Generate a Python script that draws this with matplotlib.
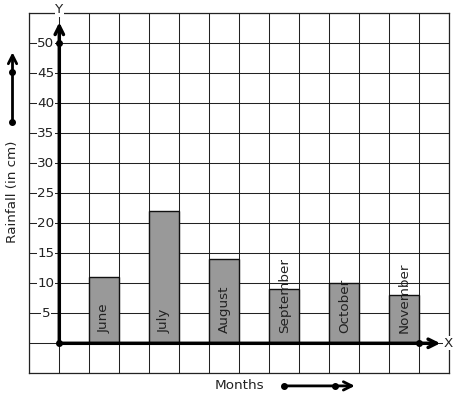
import matplotlib
matplotlib.use("Agg")
import matplotlib.pyplot as plt

months = ["June", "July", "August", "September", "October", "November"]
rainfall = [11, 22, 14, 9, 10, 8]
bar_pos = [1, 3, 5, 7, 9, 11]
y_ticks = [5, 10, 15, 20, 25, 30, 35, 40, 45, 50]

W, H = 457, 399
fig = plt.figure(figsize=(W / 100, H / 100), dpi=100)
ax = fig.add_axes([29.3 / W, (H - 373.3) / H, 420 / W, 360 / H])
ax.set_xlim(-1, 13)
ax.set_ylim(-5, 55)
for s in ax.spines.values():
    s.set_visible(False)
ax.set_xticks(range(-1, 14))
ax.set_yticks(range(-5, 56, 5))
ax.tick_params(length=0, labelbottom=False, labelleft=False)
ax.grid(True, color="#222222", lw=0.75)
ax.set_axisbelow(True)
for x in (-1, 13):
    ax.axvline(x, color="#222222", lw=0.9, clip_on=False)
for y in (-5, 55):
    ax.axhline(y, color="#222222", lw=0.9, clip_on=False)

fs = 9.7
tc = "#222222"
bb = dict(facecolor="white", edgecolor="none", pad=0.3)

ax.bar(bar_pos, rainfall, width=1, align="edge", color="#999999",
       edgecolor="#111111", lw=1.0, zorder=3)
for p, m in zip(bar_pos, months):
    ax.text(p + 0.5, 1.7, m, rotation=90, rotation_mode="anchor",
            ha="left", va="center", fontsize=fs, color=tc, zorder=5)

for t in y_ticks:
    ax.text(-0.45, t, str(t), ha="center", va="center", fontsize=fs,
            color=tc, bbox=bb, zorder=4)

# axes arrows
ax.annotate("", xy=(0, 53.5), xytext=(0, 0),
            arrowprops=dict(arrowstyle="->,head_length=0.6,head_width=0.3",
                            lw=2.5, color="black", shrinkA=0, shrinkB=0),
            zorder=6, annotation_clip=False)
ax.annotate("", xy=(12.7, 0), xytext=(0, 0),
            arrowprops=dict(arrowstyle="->,head_length=0.6,head_width=0.3",
                            lw=2.5, color="black", shrinkA=0, shrinkB=0),
            zorder=6, annotation_clip=False)
ax.plot([0, 0, 12], [0, 50, 0], "o", color="black", ms=4, zorder=7)
ax.text(0, 55.6, "Y", ha="center", va="center", fontsize=fs, color=tc,
        bbox=bb, zorder=6, clip_on=False)
ax.text(12.97, 0, "X", ha="center", va="center", fontsize=fs, color=tc,
        bbox=bb, zorder=6, clip_on=False)

# side labels and arrows
ax.text(-1.57, 25.2, "Rainfall (in cm)", rotation=90, ha="center",
        va="center", fontsize=fs, color=tc, clip_on=False)
ax.annotate("", xy=(-1.56, 48.5), xytext=(-1.56, 36.9),
            arrowprops=dict(arrowstyle="->,head_length=0.6,head_width=0.3",
                            lw=2.0, color="black", shrinkA=0, shrinkB=0),
            annotation_clip=False)
ax.plot([-1.56, -1.56], [36.9, 45.2], "o", color="black", ms=4, clip_on=False)

ax.text(6.0, -7.0, "Months", ha="center", va="center", fontsize=fs,
        color=tc, clip_on=False)
ax.annotate("", xy=(9.85, -7.1), xytext=(7.5, -7.1),
            arrowprops=dict(arrowstyle="->,head_length=0.6,head_width=0.3",
                            lw=2.0, color="black", shrinkA=0, shrinkB=0),
            annotation_clip=False)
ax.plot([7.5, 9.18], [-7.1, -7.1], "o", color="black", ms=4, clip_on=False)

fig.savefig("out.png", dpi=100)
